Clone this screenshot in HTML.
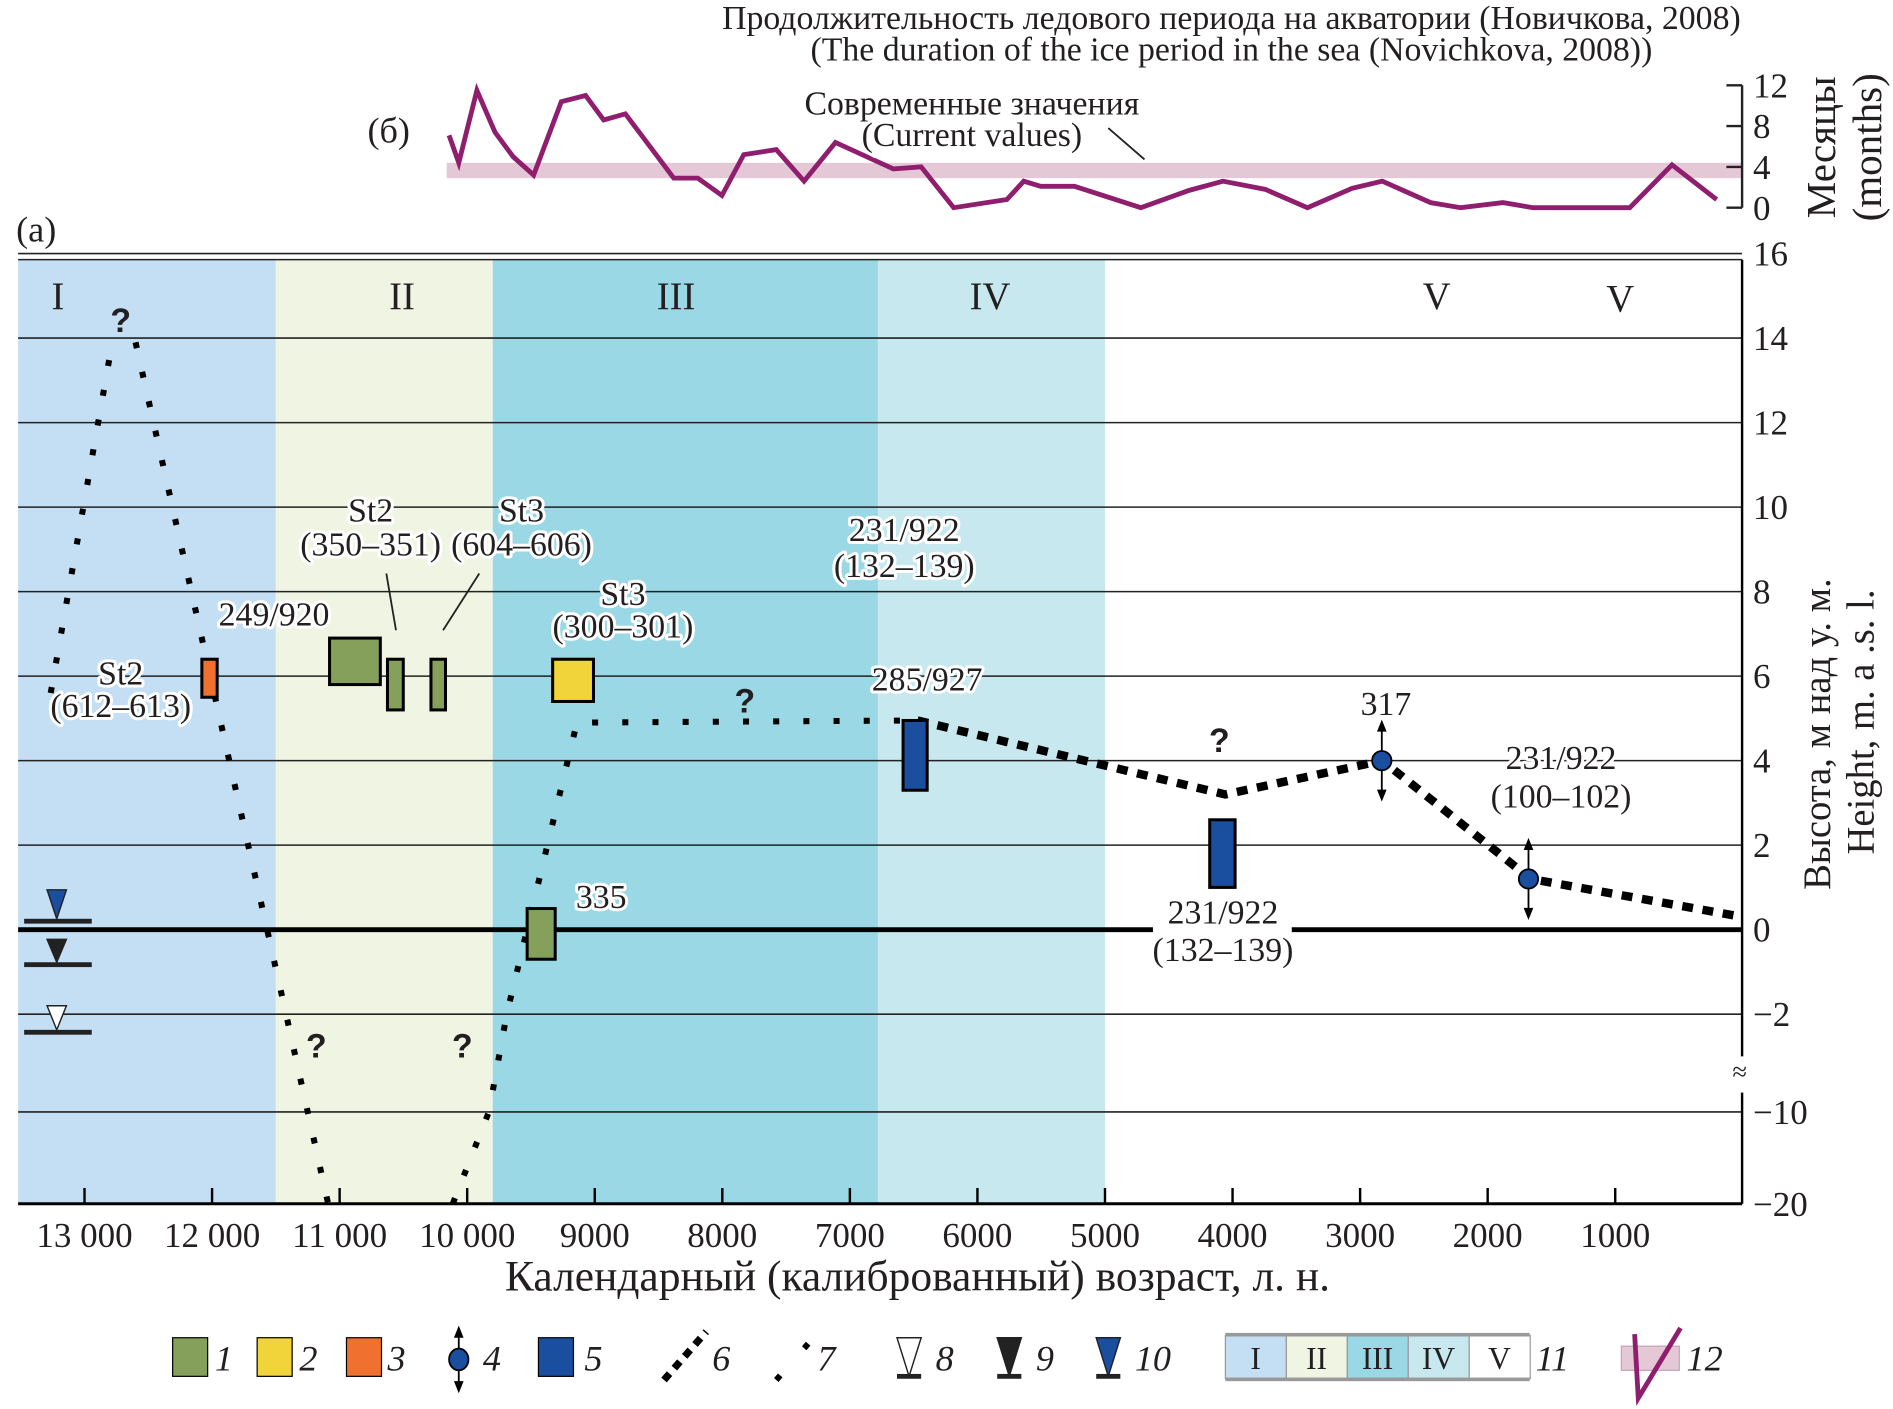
<!DOCTYPE html>
<html><head><meta charset="utf-8"><style>
html,body{margin:0;padding:0;background:#fff}
svg{display:block}
text{font-family:"Liberation Serif","Noto Serif CJK SC",serif;fill:#231f20}
</style></head><body>
<svg id="chart" width="1893" height="1409" viewBox="0 0 1568 1167" xmlns="http://www.w3.org/2000/svg">
<g id="bands"></g>
<g id="grid"></g>
<g id="marks"></g>
<g id="topchart"></g>
<g id="labels"></g>
</svg>
<script>
// ----- data -----
const xTicks = [13000,12000,11000,10000,9000,8000,7000,6000,5000,4000,3000,2000,1000];
const xTickLabels = ["13 000","12 000","11 000","10 000","9000","8000","7000","6000","5000","4000","3000","2000","1000"];
const yTicks = [16,14,12,10,8,6,4,2,0,-2,-10,-20];
const yTickLabels = ["16","14","12","10","8","6","4","2","0","\u22122","\u221210","\u221220"];
const bandNames = ["I","II","III","IV","V"];
const bandStarts = [13600,11500,9800,6780,5000];
const bandEnds = [11500,9800,6780,5000,0];
const iceTimes = [10142,10066,9924,9782,9640,9479,9262,9072,8930,8760,8381,8192,8003,7832,7577,7359,7113,6659,6441,6186,5769,5637,5504,5239,4719,4340,4075,3744,3413,3062,2826,2447,2211,1880,1643,886,555,205];
const iceMonths = [7.1,4.4,11.5,7.4,5.0,3.2,10.4,11.0,8.6,9.2,2.9,2.9,1.2,5.2,5.7,2.6,6.4,3.8,4.0,0,0.8,2.6,2.1,2.1,0,1.7,2.6,1.8,0,1.9,2.6,0.5,0,0.5,0,0,4.2,0.8];
const monthTicks = [0,4,8,12];
const currentBand = [2.9,4.4];
const lineA_t = [13265,12800]; const lineA_h = [5.6,13.6];
const lineB_t = [12600,11420,11250,11090]; const lineB_h = [13.9,-2,-10,-20];
const lineC_t = [10113,9830,9690,9140,6470]; const lineC_h = [-20,-10,-2,4.9,4.95];
const lineD_t = [6470,4057,2826,1662,0]; const lineD_h = [4.95,3.2,4.0,1.2,0.3];
const boxT0 = [12080,11079,10625,10284,9330,9530,6583,4179];
const boxT1 = [11960,10681,10501,10170,9010,9310,6394,3980];
const boxH0 = [6.4,6.9,6.4,6.4,6.4,0.5,4.95,2.6];
const boxH1 = [5.5,5.8,5.2,5.2,5.4,-0.7,3.3,1.0];
const boxKind = ["orange","green","green","green","yellow","green","blue","blue"];
const pointT = [2830,1680]; const pointH = [4.0,1.2];

const colors={green:"#84a05a",yellow:"#f0d43a",orange:"#f07030",blue:"#1a4fa0"};
const bandColors=["#c4dff3","#f0f5e3","#99d8e4","#c7e8ee","#ffffff"];
// ----- axes -----
const X=t=>70+(13000-t)*0.10566;
const Y=h=>h>=-2?770-h*35:(h>=-10?921:921+(-10-h)*7.6);
const YM=m=>172-m*8.45;
const NS="http://www.w3.org/2000/svg";
function mk(tag,attrs,parent,txt){const e=document.createElementNS(NS,tag);for(const k in attrs)e.setAttribute(k,attrs[k]);if(txt!==undefined)e.textContent=txt;parent.appendChild(e);return e;}
const gBands=document.getElementById('bands'),gGrid=document.getElementById('grid'),gMarks=document.getElementById('marks'),gTop=document.getElementById('topchart'),gLabels=document.getElementById('labels');
const L=15,R=1443;
bandNames.forEach((n,i)=>{
 const x0=Math.max(L,X(bandStarts[i])),x1=X(bandEnds[i]);
 const r=mk('rect',{x:x0,y:215,width:x1-x0,height:782,fill:bandColors[i]},gBands);
 
 
});
yTicks.forEach((h,i)=>{
 if(h!==0&&h!==-20){
  const l=mk('line',{x1:L,x2:R,y1:Y(h),y2:Y(h),stroke:'#222','stroke-width':1.3},gGrid);
  
  
 }
 const t=mk('text',{x:1452,y:Y(h)+10,'font-size':29},gLabels,yTickLabels[i]);
 
 
});
[[L,955],[1070,R]].forEach(s=>{const l=mk('line',{x1:s[0],x2:s[1],y1:770,y2:770,stroke:'#000','stroke-width':4},gGrid);});
{const a=mk('path',{d:`M${R},215 V875 M${R},905 V997`,stroke:'#000','stroke-width':2,fill:'none'},gGrid);
 const b=mk('text',{x:R-8,y:895,'font-size':22},gGrid,"\u2248");
 const tt=mk('line',{x1:L,x2:R,y1:215,y2:215,stroke:'#222','stroke-width':1.3},gGrid);}
{const a=mk('line',{x1:L,x2:R,y1:997,y2:997,stroke:'#000','stroke-width':2.5},gGrid);}
xTicks.forEach((t,i)=>{
 const l=mk('line',{x1:X(t),x2:X(t),y1:984,y2:997,stroke:'#000','stroke-width':2},gGrid);
 
 
 const tx=mk('text',{x:X(t),y:1033,'font-size':29,'text-anchor':'middle'},gLabels,xTickLabels[i]);
 
 
});
function poly(ts,hs,w,dash,name){const p=ts.map((t,i)=>X(t)+','+Y(hs[i])).join(' ');const e=mk('polyline',{points:p,fill:'none',stroke:'#000','stroke-width':w,'stroke-dasharray':dash},gMarks);}
poly(lineA_t,lineA_h,5,"5 20","sea-level-line-early-left");
poly(lineB_t,lineB_h,5,"5 20","sea-level-line-early-right");
poly(lineC_t,lineC_h,5,"5 20","sea-level-line-middle");
poly(lineD_t,lineD_h,7,"9 8","sea-level-line-late");
boxKind.forEach((k,i)=>{
 const x0=X(boxT0[i]),x1=X(boxT1[i]),y0=Y(boxH0[i]),y1=Y(boxH1[i]);
 const r=mk('rect',{x:x0,y:y0,width:x1-x0,height:y1-y0,fill:colors[k],stroke:'#000','stroke-width':2.5},gMarks);
 
 
});
pointT.forEach((t,i)=>{
 const cx=X(t),cy=Y(pointH[i]);
 const g=mk('g',{},gMarks);
 
 
 mk('line',{x1:cx,x2:cx,y1:cy-30,y2:cy+30,stroke:'#000','stroke-width':1.5},g);
 mk('path',{d:`M${cx-4},${cy-24}L${cx},${cy-34}L${cx+4},${cy-24}ZM${cx-4},${cy+24}L${cx},${cy+34}L${cx+4},${cy+24}Z`,fill:'#000'},g);
 mk('circle',{cx:cx,cy:cy,r:8,fill:'#1a4fa0',stroke:'#000','stroke-width':1.5},g);
});
[[763,'#1a4fa0',737],[799,'#222',778],[855,'#fff',833]].forEach((s,i)=>{
 const g=mk('g',{},gMarks);
 
 
 mk('rect',{x:20,y:s[0]-2,width:56,height:4,fill:'#222'},g);
 mk('path',{d:`M39,${s[2]}L55,${s[2]}L47,${s[0]-2}Z`,fill:s[1],stroke:'#222','stroke-width':1.2},g);
});
{const b=mk('rect',{x:370,y:YM(currentBand[1]),width:R-370,height:YM(currentBand[0])-YM(currentBand[1]),fill:'#e5c8d5'},gTop);
 const p=iceTimes.map((t,i)=>X(t)+','+YM(iceMonths[i])).join(' ');
 const l=mk('polyline',{points:p,fill:'none',stroke:'#8f1f6e','stroke-width':4},gTop);
 const a=mk('line',{x1:R,x2:R,y1:YM(12),y2:YM(0),stroke:'#222','stroke-width':2},gTop);
 monthTicks.forEach(m=>{const t=mk('line',{x1:R-13,x2:R,y1:YM(m),y2:YM(m),stroke:'#222','stroke-width':2},gTop);
  const tx=mk('text',{x:1452,y:YM(m)+10,'font-size':29},gTop,String(m));});
 const ld=mk('line',{x1:918,x2:948,y1:106,y2:132,stroke:'#222','stroke-width':1.5},gTop);
}
[[320,475,328,522],[397,475,367,522]].forEach(s=>{const l=mk('line',{x1:s[0],y1:s[1],x2:s[2],y2:s[3],stroke:'#222','stroke-width':1.5},gMarks);});
const lg=mk('g',{},gLabels);


function lgRect(x,c,n){const r=mk('rect',{x:x,y:1108,width:29,height:32,fill:c,stroke:'#000','stroke-width':1},lg);}
function lgNum(x,s){const t=mk('text',{x:x,y:1135,'font-size':30,'font-style':'italic'},lg,s);}
lgRect(143,colors.green,1);lgNum(178,"1");
lgRect(213,colors.yellow,2);lgNum(248,"2");
lgRect(287,colors.orange,3);lgNum(321,"3");
mk('line',{x1:380,x2:380,y1:1100,y2:1152,stroke:'#000','stroke-width':1.5},lg);
mk('path',{d:'M376,1108L380,1098L384,1108ZM376,1144L380,1154L384,1144Z',fill:'#000'},lg);
mk('ellipse',{cx:380,cy:1126,rx:8,ry:9,fill:'#1a4fa0',stroke:'#000','stroke-width':1.5},lg);lgNum(400,"4");
lgRect(446,colors.blue,5);lgNum(484,"5");
mk('line',{x1:550,x2:585,y1:1143,y2:1103,stroke:'#000','stroke-width':6,'stroke-dasharray':'7 6'},lg);lgNum(590,"6");
mk('line',{x1:643,x2:672,y1:1143,y2:1110,stroke:'#000','stroke-width':5,'stroke-dasharray':'5 30'},lg);lgNum(677,"7");
[[753,'#fff',8],[836,'#222',9],[918,'#1a4fa0',10]].forEach(s=>{mk('path',{d:`M${s[0]-10},1108L${s[0]+10},1108L${s[0]},1140Z`,fill:s[1],stroke:'#222','stroke-width':1.2},lg);mk('rect',{x:s[0]-10,y:1138,width:20,height:4,fill:'#222'},lg);lgNum(s[0]+22,String(s[2]));});
bandNames.forEach((n,i)=>{const x=1015+i*50.5;mk('rect',{x:x,y:1106,width:50.5,height:36,fill:bandColors[i],stroke:'#999','stroke-width':1},lg);
 mk('text',{x:x+25,y:1134,'font-size':26,'text-anchor':'middle'},lg,n);});
mk('rect',{x:1015,y:1104,width:252,height:3,fill:'#999'},lg);mk('rect',{x:1015,y:1141,width:252,height:3,fill:'#999'},lg);
lgNum(1272,"11");
mk('rect',{x:1343,y:1115,width:48,height:20,fill:'#e5c8d5',stroke:'#c9a0b8','stroke-width':1},lg);
mk('path',{d:'M1354,1105L1357,1158L1392,1100',fill:'none',stroke:'#8f1f6e','stroke-width':4},lg);lgNum(1397,"12");
</script>
<svg style="position:absolute;left:0;top:0" width="1893" height="1409" viewBox="0 0 1568 1167">
<g fill="#231f20">
<text x="1020" y="24" font-size="28" text-anchor="middle">Продолжительность ледового периода на акватории (Новичкова, 2008)</text>
<text x="1020" y="50" font-size="28" text-anchor="middle">(The duration of the ice period in the sea (Novichkova, 2008))</text>
<text x="322" y="118" font-size="30" text-anchor="middle">(б)</text>
<text x="30" y="200" font-size="30" text-anchor="middle">(a)</text>
<text x="805" y="95" font-size="28" text-anchor="middle" style="paint-order:stroke;stroke:#fff;stroke-width:5px">Современные значения</text>
<text x="805" y="121" font-size="28" text-anchor="middle" style="paint-order:stroke;stroke:#fff;stroke-width:5px">(Current values)</text>
<text transform="translate(1520,122) rotate(-90)" font-size="34" text-anchor="middle">Месяцы</text>
<text transform="translate(1558,122) rotate(-90)" font-size="34" text-anchor="middle">(months)</text>
<text transform="translate(1516,608) rotate(-90)" font-size="32" text-anchor="middle">Высота, м над у. м.</text>
<text transform="translate(1552,598) rotate(-90)" font-size="32" text-anchor="middle">Height, m. a .s. l.</text>
<text x="760" y="1069" font-size="36" text-anchor="middle">Календарный (калиброванный) возраст, л. н.</text>
<g font-size="32" text-anchor="middle">
<text x="48" y="256">I</text>
<text x="333" y="256">II</text>
<text x="560" y="256">III</text>
<text x="820" y="256">IV</text>
<text x="1190" y="256">V</text>
<text x="1342" y="258">V</text>
</g>
<g font-size="28" text-anchor="middle" style="paint-order:stroke;stroke:#fff;stroke-width:5px;stroke-linejoin:round">
<text x="100" y="567">St2</text>
<text x="100" y="594">(612–613)</text>
<text x="227" y="518">249/920</text>
<text x="307" y="432">St2</text>
<text x="307" y="460">(350–351)</text>
<text x="432" y="432">St3</text>
<text x="432" y="460">(604–606)</text>
<text x="516" y="501">St3</text>
<text x="516" y="528">(300–301)</text>
<text x="749" y="448">231/922</text>
<text x="749" y="478">(132–139)</text>
<text x="768" y="572">285/927</text>
<text x="498" y="752">335</text>
<text x="1148" y="592">317</text>
<text x="1293" y="637">231/922</text>
<text x="1293" y="669">(100–102)</text>
<text x="1013" y="765">231/922</text>
<text x="1013" y="796">(132–139)</text>
</g>
<g font-size="28" text-anchor="middle" font-weight="bold">
<text x="100" y="275" style="font-family:'Liberation Sans',sans-serif">?</text>
<text x="617" y="590" style="font-family:'Liberation Sans',sans-serif">?</text>
<text x="1010" y="623" style="font-family:'Liberation Sans',sans-serif">?</text>
<text x="262" y="876" style="font-family:'Liberation Sans',sans-serif">?</text>
<text x="383" y="876" style="font-family:'Liberation Sans',sans-serif">?</text>
</g>
</g>
</svg>
</body></html>
